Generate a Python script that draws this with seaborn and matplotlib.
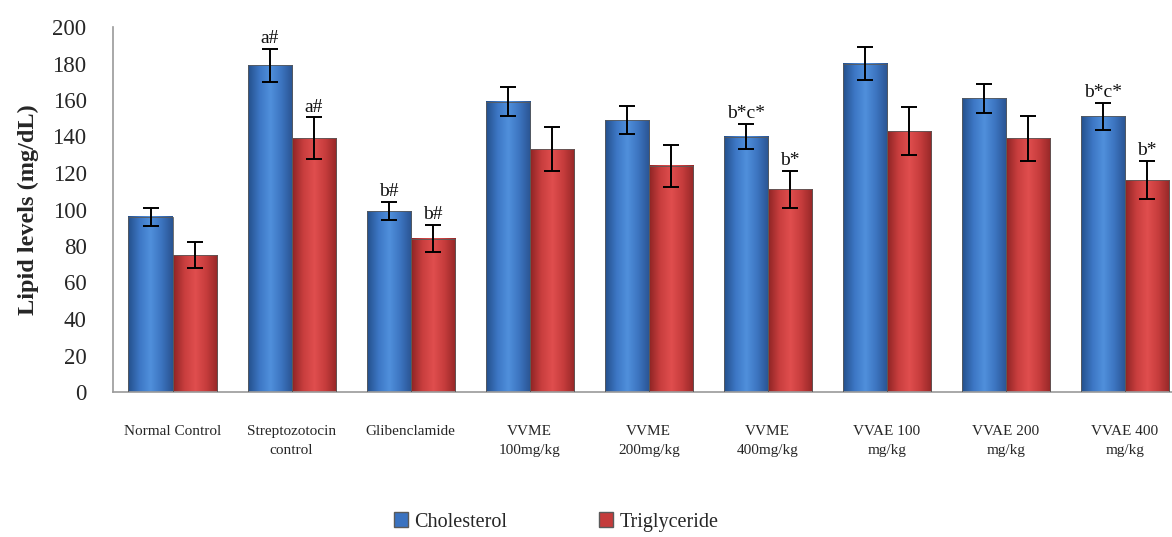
"""
Lipid levels (cholesterol / triglyceride) per treatment group, grouped bar chart
"""
import numpy as np
import pandas as pd
import matplotlib
matplotlib.use('Agg')
import matplotlib.pyplot as plt
from matplotlib.colors import LinearSegmentedColormap
from matplotlib.patches import Patch
import seaborn as sns

# Datos
groups = ['Normal Control', 'Streptozotocin\ncontrol', 'Glibenclamide',
          'VVME\n100mg/kg', 'VVME\n200mg/kg', 'VVME\n400mg/kg',
          'VVAE 100\nmg/kg', 'VVAE 200\nmg/kg', 'VVAE 400\nmg/kg']
cholesterol = [96, 179, 99, 159, 149, 140, 180, 161, 151]
cholesterol_err = [5, 9, 5, 8, 7.5, 7, 9, 8, 7.5]
triglyceride = [75, 139, 84, 133, 124, 111, 143, 139, 116]
triglyceride_err = [7, 11.5, 7.5, 12, 11.5, 10, 13, 12.5, 10.5]
chol_marks = ['', 'a#', 'b#', '', '', 'b*c*', '', '', 'b*c*']
tg_marks = ['', 'a#', 'b#', '', '', 'b*', '', '', 'b*']

series = ['Cholesterol', 'Triglyceride']

df = pd.DataFrame({
    'group': groups * 2,
    'lipid': ['Cholesterol'] * len(groups) + ['Triglyceride'] * len(groups),
    'value': cholesterol + triglyceride,
})

sns.set_style('white')
plt.rcParams['font.family'] = ['Liberation Serif', 'DejaVu Serif']

fig = plt.figure(figsize=(11.72, 5.37), dpi=100)
ax = fig.add_axes([113 / 1172, 145 / 537, 1 - 113 / 1172, (392 - 27) / 537])

sns.barplot(data=df, x='group', y='value', hue='lipid', hue_order=series,
            order=groups, palette=['#3A70BE', '#C83C3C'], width=0.74,
            errorbar=None, legend=False, ax=ax)

# Degradado horizontal tipo "cilindro" en cada barra
shades = {
    'Cholesterol': ['#24508C', '#3C76C4', '#5090DC', '#3C74C0', '#2A5492'],
    'Triglyceride': ['#8E2424', '#C83E3E', '#E04E4E', '#C63C3C', '#962828'],
}
grad = np.linspace(0, 1, 64).reshape(1, -1)
for name, cont in zip(series, ax.containers):
    cmap = LinearSegmentedColormap.from_list(name, shades[name])
    for bar in cont:
        x0, w, h = bar.get_x(), bar.get_width(), bar.get_height()
        ax.imshow(grad, cmap=cmap, extent=(x0, x0 + w, 0, h), aspect='auto',
                  zorder=2, clip_path=bar, clip_on=True)
        bar.set_facecolor('none')
        bar.set_edgecolor('#5a5a5a')
        bar.set_linewidth(0.6)
        bar.set_zorder(3)

# Barras de error y letras de significancia
for cont, vals, errs, marks in zip(ax.containers,
                                   [cholesterol, triglyceride],
                                   [cholesterol_err, triglyceride_err],
                                   [chol_marks, tg_marks]):
    xs = [b.get_x() + b.get_width() / 2 for b in cont]
    ax.errorbar(xs, vals, yerr=errs, fmt='none', ecolor='black',
                elinewidth=1.4, capsize=5.5, capthick=1.4, zorder=4)
    for x, v, e, m in zip(xs, vals, errs, marks):
        if m:
            ax.text(x, v + e + 1, m, ha='center', va='bottom', fontsize=14,
                    color='#111111', zorder=5)

ax.set_xlim(-0.5, 8.395)
ax.set_ylim(0, 200)
ax.set_yticks(range(0, 201, 20))
ax.set_xlabel('')
ax.set_ylabel('Lipid levels (mg/dL)', fontsize=17.5, fontweight='bold', labelpad=10)
ax.tick_params(axis='y', length=0, pad=19, labelsize=16.5)
ax.tick_params(axis='x', length=0, pad=24, labelsize=11)
for lbl in ax.get_xticklabels():
    lbl.set_linespacing(1.6)

sns.despine(ax=ax, top=True, right=True)
ax.spines['left'].set_color('#9a9a9a')
ax.spines['bottom'].set_color('#9a9a9a')
ax.spines['left'].set_linewidth(1.2)
ax.spines['bottom'].set_linewidth(1.2)

handles = [Patch(facecolor='#3A72C0', edgecolor='#5a5a5a'),
           Patch(facecolor='#C43C3C', edgecolor='#5a5a5a')]
fig.legend(handles, series, loc='center', bbox_to_anchor=(556 / 1172, 0.028),
           ncol=2, frameon=False, fontsize=14.5, handlelength=0.7,
           handleheight=0.7, handletextpad=0.3, columnspacing=4.6)

fig.savefig('out.png', dpi=100)
plt.close(fig)
